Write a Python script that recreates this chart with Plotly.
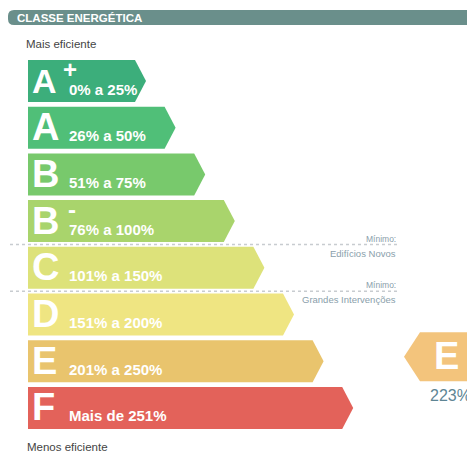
import plotly.graph_objects as go

# ---- data ----
classes = ["A+", "A", "B", "B-", "C", "D", "E", "F"]
letters = ["A", "A", "B", "B", "C", "D", "E", "F"]
superscripts = ["+", "", "", "-", "", "", "", ""]
ranges = ["0% a 25%", "26% a 50%", "51% a 75%", "76% a 100%",
          "101% a 150%", "151% a 200%", "201% a 250%", "Mais de 251%"]
class_colors = ["#3cae7b", "#50bf78", "#78c96c", "#a9d46c",
                "#dde27a", "#efe582", "#e9c46d", "#e3625a"]
title = "CLASSE ENERGÉTICA"
top_label = "Mais eficiente"
bottom_label = "Menos eficiente"
# minimum requirement thresholds: (class index after which the line falls, label)
minimums = [(3, "Edifícios Novos"), (4, "Grandes Intervenções")]
rating_class = "E"
rating_value = "223%"

# ---- layout constants (pixel-like coordinate space) ----
W, H = 467, 453
FONT = "Liberation Sans, Arial, sans-serif"
x0 = 28
top0 = 60
step_y = 46.7
bar_h = 42
tip0 = 146
step_x = 29.6
tip_d = 11

fig = go.Figure()
ann = []
shapes = []

# header bar
shapes.append(dict(type="path", xref="x", yref="y",
                   path="M 14,10 L 470,10 L 470,25 L 14,25 Q 8,25 8,19 L 8,16 Q 8,10 14,10 Z",
                   fillcolor="#6a8f8b", line=dict(width=0), layer="below"))
ann.append(dict(x=15, y=17.8, text=title, xanchor="left", yanchor="middle", showarrow=False,
                font=dict(family=FONT, size=11.5, color="white", weight="bold")))
ann.append(dict(x=24, y=44, text=top_label, xanchor="left", yanchor="middle", showarrow=False,
                font=dict(family=FONT, size=11.5, color="#444444")))
ann.append(dict(x=25, y=447, text=bottom_label, xanchor="left", yanchor="middle", showarrow=False,
                font=dict(family=FONT, size=11.5, color="#444444")))

for i, cls in enumerate(classes):
    top = top0 + i * step_y
    bot = top + bar_h
    mid = (top + bot) / 2
    tip = tip0 + i * step_x
    xs = [x0, tip - tip_d, tip, tip - tip_d, x0, x0]
    ys = [top, top, mid, bot, bot, top]
    fig.add_trace(go.Scatter(x=xs, y=ys, mode="lines", fill="toself",
                             fillcolor=class_colors[i], line=dict(width=0),
                             hoverinfo="skip", showlegend=False, name=cls))
    size = 34 if superscripts[i] == "+" else 38
    ann.append(dict(x=x0 + 2, y=mid - 0.5, text=letters[i], xanchor="left", yanchor="middle",
                    showarrow=False,
                    font=dict(family=FONT, size=size, color="white", weight="bold")))
    if superscripts[i]:
        ann.append(dict(x=x0 + 33 if superscripts[i] == "+" else x0 + 38,
                        y=top + 9, text=superscripts[i], xanchor="left", yanchor="middle",
                        showarrow=False,
                        font=dict(family=FONT, size=24, color="white", weight="bold")))
    ann.append(dict(x=x0 + 39, y=mid + 8, text=ranges[i], xanchor="left", yanchor="middle",
                    showarrow=False,
                    font=dict(family=FONT, size=15, color="white", weight="bold")))

# minimum lines
for idx, label in minimums:
    yline = top0 + idx * step_y + bar_h + 2.5
    shapes.append(dict(type="line", xref="x", yref="y", x0=10, x1=400, y0=yline, y1=yline,
                       line=dict(color="#c8ccd0", width=1.5, dash="dot")))
    ann.append(dict(x=398, y=yline - 6, text="Mínimo:", xanchor="right", yanchor="middle",
                    showarrow=False, font=dict(family=FONT, size=8.5, color="#8aa0ab")))
    ann.append(dict(x=398, y=yline + 8.5, text=label, xanchor="right", yanchor="middle",
                    showarrow=False, font=dict(family=FONT, size=9.5, color="#8aa0ab")))

# rating indicator
ri = classes.index(rating_class)
rtop = top0 + ri * step_y - 8
rbot = rtop + 49
rmid = (rtop + rbot) / 2
fig.add_trace(go.Scatter(x=[404, 420, 480, 480, 420, 404], y=[rmid, rtop, rtop, rbot, rbot, rmid],
                         mode="lines", fill="toself", fillcolor="#f3c47c", line=dict(width=0),
                         hoverinfo="skip", showlegend=False, name="rating"))
ann.append(dict(x=432, y=rmid - 0.5, text=rating_class, xanchor="left", yanchor="middle",
                showarrow=False, font=dict(family=FONT, size=38, color="white", weight="bold")))
ann.append(dict(x=428, y=395, text=rating_value, xanchor="left", yanchor="middle",
                showarrow=False, font=dict(family=FONT, size=16, color="#5d8594")))

fig.update_layout(
    width=W, height=H, margin=dict(l=0, r=0, t=0, b=0),
    paper_bgcolor="white", plot_bgcolor="white",
    xaxis=dict(range=[0, W], visible=False, fixedrange=True),
    yaxis=dict(range=[H, 0], visible=False, fixedrange=True),
    shapes=shapes, annotations=ann, showlegend=False,
)
fig.write_html("out.html", config={"displayModeBar": False},
               post_script="document.body.style.margin='0';document.body.style.overflow='hidden';")
